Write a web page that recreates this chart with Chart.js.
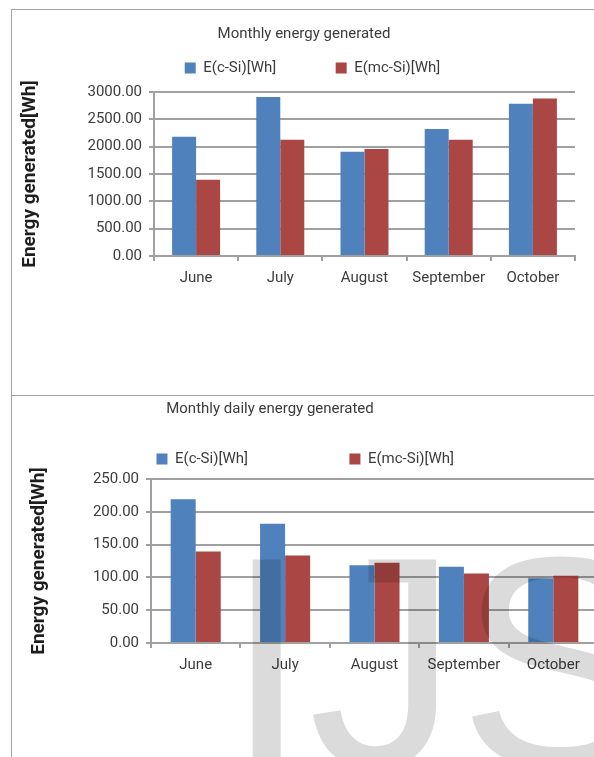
<!DOCTYPE html>
<html lang="en">
<head>
    <meta charset="UTF-8">
    <title>Monthly energy generated</title>
    <script src="https://cdn.jsdelivr.net/npm/chart.js"></script>
    <style>
        body {
            margin: 0;
            width: 594px;
            height: 757px;
            overflow: hidden;
            position: relative;
            background: #fff;
            font-family: 'Roboto', sans-serif;
        }
        .frame {
            position: absolute;
            left: 11px;
            width: 620px;
            border: 1px solid #a3a3a3;
        }
        canvas {
            position: absolute;
            left: 0;
        }
        .chart-title {
            position: absolute;
            left: 0;
            font-size: 15px;
            line-height: 18px;
            color: #3c3c3c;
            text-align: center;
        }
        .watermark {
            position: absolute;
            left: 225px;
            top: 512px;
            font-family: 'Liberation Sans', Arial, sans-serif;
            font-size: 300px;
            line-height: 300px;
            color: rgba(0, 0, 0, 0.14);
            pointer-events: none;
            white-space: nowrap;
        }
    </style>
</head>
<body>
    <div class="frame" style="top: 9px; height: 385px;"></div>
    <div class="frame" style="top: 395px; height: 400px;"></div>

    <canvas id="monthly" width="594" height="340" style="top: 0;"></canvas>
    <canvas id="daily" width="620" height="417" style="top: 340px;"></canvas>

    <div class="chart-title" style="top: 24px; width: 608px;">Monthly energy generated</div>
    <div class="chart-title" style="top: 399px; width: 540px;">Monthly daily energy generated</div>

    <div class="watermark">IJS</div>

    <script>
        // data
        const months = ['June', 'July', 'August', 'September', 'October'];
        const monthlyCSi = [2183, 2909, 1909, 2323, 2785];
        const monthlyMcSi = [1396, 2128, 1957, 2128, 2882];
        const dailyCSi = [219, 181.8, 118.7, 116.2, 98.8];
        const dailyMcSi = [139.5, 133.2, 122.3, 106.0, 102.4];
        const seriesNames = ['E(c-Si)[Wh]', 'E(mc-Si)[Wh]'];
        const yTitle = 'Energy generated[Wh]';

        const BLUE = '#4f81bd';
        const RED = '#aa4644';
        const GRID = '#a0a0a0';
        const TEXT = '#3c3c3c';
        const FONT = 'Roboto';

        function makeChart(id, cfg) {
            return new Chart(document.getElementById(id).getContext('2d'), {
                type: 'bar',
                data: {
                    labels: months,
                    datasets: [
                        { label: seriesNames[0], data: cfg.a, backgroundColor: BLUE, borderWidth: 0 },
                        { label: seriesNames[1], data: cfg.b, backgroundColor: RED, borderWidth: 0 }
                    ]
                },
                options: {
                    responsive: false,
                    animation: false,
                    devicePixelRatio: 1,
                    layout: { padding: cfg.padding },
                    datasets: {
                        bar: { barPercentage: 1, categoryPercentage: cfg.catPct }
                    },
                    plugins: {
                        tooltip: { enabled: false },
                        title: { display: false },
                        legend: {
                            position: 'top',
                            labels: {
                                boxWidth: 11,
                                boxHeight: 11,
                                padding: cfg.legendGap,
                                color: TEXT,
                                font: { family: FONT, size: 15 }
                            }
                        },
                        // empty box between legend and plot, only used as a spacer
                        subtitle: {
                            display: true,
                            text: '',
                            weight: 500,
                            font: { size: 1, lineHeight: '0px' },
                            padding: { top: cfg.spacer, bottom: 0 }
                        }
                    },
                    scales: {
                        x: {
                            afterFit: s => { s.height = cfg.xHeight; },
                            grid: { drawOnChartArea: false, drawTicks: true, tickLength: 5, color: GRID, lineWidth: 2 },
                            border: { display: true, color: GRID, width: 2 },
                            ticks: { color: TEXT, padding: 8, font: { family: FONT, size: 15 } }
                        },
                        y: {
                            min: 0,
                            max: cfg.max,
                            afterFit: s => { s.width = cfg.yWidth; },
                            grid: { color: GRID, lineWidth: 2, tickLength: 5 },
                            border: { display: true, color: GRID, width: 2 },
                            ticks: {
                                stepSize: cfg.step,
                                padding: 7,
                                color: TEXT,
                                font: { family: FONT, size: 15 },
                                callback: v => v.toFixed(2)
                            },
                            title: {
                                display: true,
                                text: yTitle,
                                color: '#1e1e1e',
                                font: { family: FONT, size: 19, weight: 'bold' },
                                padding: { top: cfg.yTitlePad, bottom: 0 }
                            }
                        }
                    }
                }
            });
        }

        makeChart('monthly', {
            a: monthlyCSi, b: monthlyMcSi,
            max: 3000, step: 500,
            catPct: 0.57,
            legendGap: 59.5,
            spacer: 6.5,
            padding: { left: 50, right: 19, top: 1, bottom: 0 },
            xHeight: 84,
            yWidth: 104,
            yTitlePad: -30.9
        });

        makeChart('daily', {
            a: dailyCSi, b: dailyMcSi,
            max: 250, step: 50,
            catPct: 0.56,
            legendGap: 101.5,
            spacer: 2.5,
            padding: { left: 12.5, right: 22, top: 10, bottom: 0 },
            xHeight: 114,
            yWidth: 138.5,
            yTitlePad: 15.6
        });
    </script>
</body>
</html>
